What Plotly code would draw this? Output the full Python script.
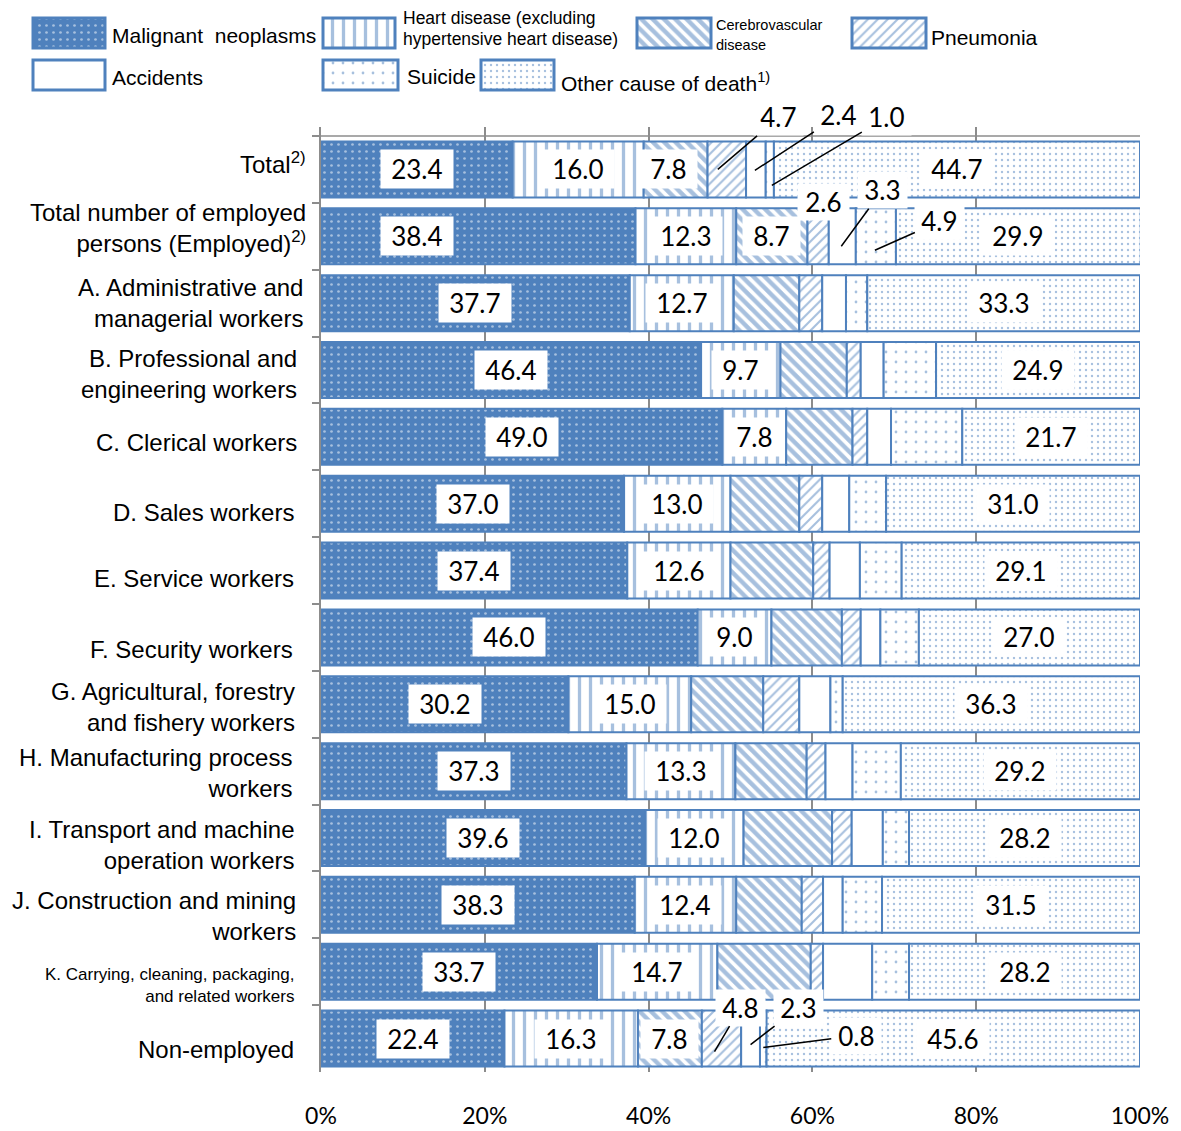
import numpy as np
import plotly.graph_objects as go

W, H = 1181, 1131
OX, OY = 8, 8          # page offset of the figure (body margin)
BLUE = "#4F81BD"
GRID = "#8C8C8C"
FONT = "Liberation Sans, Arial, sans-serif"
NUMFONT = "Lato, Liberation Sans, sans-serif"

# ---------------- data ----------------
categories = ["Total", "Employed", "A", "B", "C", "D", "E", "F", "G", "H", "I", "J", "K", "Non-employed"]
category_labels = [
    "Total<sup>2)</sup>",
    "Total number of employed<br>persons (Employed)<sup>2)</sup>",
    "A. Administrative and<br>managerial workers",
    "B. Professional and<br>engineering workers",
    "C. Clerical workers",
    "D. Sales workers",
    "E. Service workers",
    "F. Security workers",
    "G. Agricultural, forestry<br>and fishery workers",
    "H. Manufacturing process<br>workers",
    "I. Transport and machine<br>operation workers",
    "J. Construction and mining<br>workers",
    "K. Carrying, cleaning, packaging,<br>and related workers",
    "Non-employed",
]
series_names = ["Malignant neoplasms",
                "Heart disease (excluding hypertensive heart disease)",
                "Cerebrovascular disease", "Pneumonia", "Accidents", "Suicide",
                "Other cause of death"]
malignant = [23.4, 38.4, 37.7, 46.4, 49.0, 37.0, 37.4, 46.0, 30.2, 37.3, 39.6, 38.3, 33.7, 22.4]
heart = [16.0, 12.3, 12.7, 9.7, 7.8, 13.0, 12.6, 9.0, 15.0, 13.3, 12.0, 12.4, 14.7, 16.3]
cerebro = [7.8, 8.7, 8.0, 8.1, 8.1, 8.4, 10.1, 8.6, 8.8, 8.7, 10.8, 8.0, 11.4, 7.8]
pneumonia = [4.7, 2.6, 2.8, 1.7, 1.8, 2.8, 2.0, 2.3, 4.4, 2.3, 2.4, 2.6, 1.5, 4.8]
accidents = [2.4, 3.3, 2.9, 2.8, 2.9, 3.3, 3.7, 2.4, 3.8, 3.3, 3.8, 2.4, 6.0, 2.3]
suicide = [1.0, 4.9, 2.6, 6.4, 8.7, 4.5, 5.1, 4.7, 1.5, 5.9, 3.2, 4.8, 4.5, 0.8]
other = [44.7, 29.9, 33.3, 24.9, 21.7, 31.0, 29.1, 27.0, 36.3, 29.2, 28.2, 31.5, 28.2, 45.6]
tick_values = [0, 20, 40, 60, 80, 100]
tick_labels = ["0%", "20%", "40%", "60%", "80%", "100%"]

series = [malignant, heart, cerebro, pneumonia, accidents, suicide, other]

# ---------------- styles ----------------
patterns = [
    dict(shape=".", bgcolor=BLUE, fgcolor="white", size=7, solidity=0.12),
    dict(shape="|", bgcolor="white", fgcolor=BLUE, size=11, solidity=0.3),
    dict(shape="\\", bgcolor="white", fgcolor=BLUE, size=8, solidity=0.55),
    dict(shape="/", bgcolor="white", fgcolor=BLUE, size=7, solidity=0.3),
    dict(shape=""),
    dict(shape=".", bgcolor="white", fgcolor=BLUE, size=10, solidity=0.06),
    dict(shape=".", bgcolor="white", fgcolor=BLUE, size=6, solidity=0.12),
]
fills = [BLUE, "white", "white", "white", "white", "white", "white"]

# plot area (page pixels)
PL, PR, PT, PB = 321, 1140, 127, 1072
ROW_TOP = 136
n = len(categories)
row_px = (PB - ROW_TOP) / n
y_top = -0.5 - (ROW_TOP - PT) / row_px

vals = np.array(series, dtype=float)
bases = np.vstack([np.zeros(n), np.cumsum(vals, axis=0)[:-1]])

fig = go.Figure()
for k in range(len(series)):
    fig.add_trace(go.Bar(
        y=categories, x=vals[k], base=bases[k], orientation="h",
        name=series_names[k], width=0.838,
        marker=dict(color=fills[k], pattern=patterns[k], line=dict(color=BLUE, width=2)),
        xaxis="x", yaxis="y", showlegend=False, hoverinfo="skip"))

# ---------------- custom legend (swatches in page-pixel space) ----------------
legend_boxes = [  # x0, x1, y0, y1
    (33, 105, 18, 48), (323, 395, 18, 48), (637, 711, 18, 48), (852, 926, 18, 48),
    (33, 105, 60, 90), (323, 398, 60, 90), (481, 554, 60, 90)]
for k, (x0, x1, y0, y1) in enumerate(legend_boxes):
    fig.add_trace(go.Bar(
        x=[x1 - x0], base=[x0], y=[(y0 + y1) / 2], width=[y1 - y0], orientation="h",
        marker=dict(color=fills[k], pattern=patterns[k], line=dict(color=BLUE, width=3)),
        xaxis="x2", yaxis="y2", showlegend=False, hoverinfo="skip"))

annotations = []
legend_texts = [  # text, x, y, size
    ("Malignant  neoplasms", 110, 35, 21),
    ("Heart disease (excluding", 401, 18, 17.5),
    ("hypertensive heart disease)", 401, 39, 17.5),
    ("Cerebrovascular", 714, 25, 14.5),
    ("disease", 714, 45, 14.5),
    ("Pneumonia", 929, 37, 21),
    ("Accidents", 110, 77, 21),
    ("Suicide", 405, 76, 21),
    ("Other cause of death<sup>1)</sup>", 559, 82, 21),
]
for t, x, y, s in legend_texts:
    annotations.append(dict(text=t, x=x, y=y, xref="x2", yref="y2", xanchor="left",
                            yanchor="middle", showarrow=False,
                            font=dict(family=FONT, size=s, color="black")))

# ---------------- category labels ----------------
cat_label_pos = [(308, -6), (308, -8), (305, 0), (299, 4), (299, 6), (296, 9), (296, 8),
                 (295, 12), (297, 3), (294, 2), (296, 7), (298, 11), (296, 14), (296, 11)]
for i, lab in enumerate(category_labels):
    xr, dy = cat_label_pos[i]
    annotations.append(dict(text=lab, x=xr, y=categories[i], xref="x2", yref="y",
                            xanchor="right", yanchor="middle", align="right",
                            yshift=-dy, showarrow=False,
                            font=dict(family=FONT, size=17 if i == 12 else 24, color="black")))

# ---------------- value labels ----------------
LBL = 26
def text_w(t):
    return sum(6.8 if c == "." else 15 for c in t)

boxed = {0: range(n), 1: range(n), 2: [0, 1, 13], 6: range(n)}
box_shift = {(1, 0): -61, (0, 2): -7}
for k, rows in boxed.items():
    for i in rows:
        v = vals[k][i]
        t = f"{v:.1f}"
        annotations.append(dict(text=t, x=bases[k][i] + v / 2, y=categories[i],
                                xref="x", yref="y", showarrow=False,
                                xshift=box_shift.get((i, k), 0),
                                bgcolor="white", borderpad=0, width=text_w(t) + 20, height=38,
                                font=dict(family=NUMFONT, size=LBL, color="black")))

# leader-line labels: (row, series) -> (xshift, down-shift, ax, ay)
leaders = {
    (0, 3): (-9, 0, 61, -52), (0, 4): (-1, 1, 84, -55), (0, 5): (2, 16, 115, -68),
    (1, 4): (-1, 10, 41, -56), (1, 5): (-1, 14, 65, -29),
    (13, 3): (-7, 13, 26, -44), (13, 4): (0, 6, 48, -37), (13, 5): (0, 9, 93, -12),
}
for (i, k), (xs, dy, ax, ay) in leaders.items():
    v = vals[k][i]
    t = f"{v:.1f}"
    annotations.append(dict(text=t, x=bases[k][i] + v / 2, y=categories[i],
                            xref="x", yref="y", xshift=xs, yshift=-dy,
                            showarrow=True, arrowhead=0, arrowwidth=1.5, arrowcolor="black",
                            standoff=0, ax=ax, ay=ay, axref="pixel", ayref="pixel",
                            bgcolor="white", borderpad=0, width=text_w(t) + 12, height=36,
                            font=dict(family=NUMFONT, size=LBL, color="black")))
# Employed pneumonia label, no leader line
i, k = 1, 3
annotations.append(dict(text=f"{vals[k][i]:.1f}", x=bases[k][i] + vals[k][i] / 2, y=categories[i],
                        xref="x", yref="y", xshift=5, yshift=34, showarrow=False,
                        bgcolor="white", borderpad=0, width=text_w("2.6") + 14, height=36,
                        font=dict(family=NUMFONT, size=LBL, color="black")))

fig.update_layout(
    width=W, height=H, margin=dict(l=0, r=0, t=0, b=0, autoexpand=False),
    paper_bgcolor="white", plot_bgcolor="rgba(0,0,0,0)",
    barmode="overlay", bargap=0.16, showlegend=False,
    xaxis=dict(domain=[(PL - OX) / W, (PR - OX) / W], range=[0, 100],
               tickvals=tick_values, ticktext=tick_labels,
               showgrid=True, gridcolor=GRID, gridwidth=1.5, zeroline=False, showline=False,
               ticks="", ticklabelstandoff=28, anchor="y", automargin=False,
               tickfont=dict(family=NUMFONT, size=23, color="black"), fixedrange=True),
    yaxis=dict(domain=[1 - (PB - OY) / H, 1 - (PT - OY) / H], type="category",
               categoryarray=categories, categoryorder="array", range=[n - 0.5, y_top],
               showgrid=False, zeroline=False, automargin=False,
               showline=True, linecolor=GRID, linewidth=2, ticks="outside", tickson="boundaries",
               ticklen=7, tickcolor=GRID, tickwidth=1.5, showticklabels=False, anchor="x",
               fixedrange=True),
    xaxis2=dict(domain=[0, 1], range=[OX, W + OX], visible=False, showticklabels=False,
                showgrid=False, zeroline=False, automargin=False, anchor="y2", fixedrange=True),
    yaxis2=dict(domain=[0, 1], range=[H + OY, OY], visible=False, showticklabels=False,
                showgrid=False, zeroline=False, automargin=False, anchor="x2", fixedrange=True),
    annotations=annotations,
    shapes=[dict(type="line", xref="x", yref="y", x0=0, x1=100, y0=-0.5, y1=-0.5,
                 line=dict(color=GRID, width=1.5), layer="below")],
)

fig.write_html("out.html")
